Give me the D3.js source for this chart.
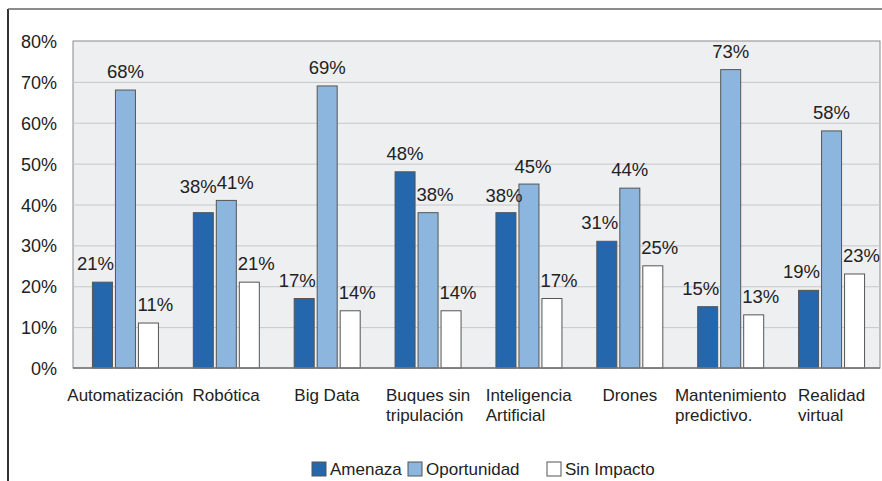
<!DOCTYPE html>
<html>
<head>
<meta charset="UTF-8">
<title></title>
<script type="text/javascript" src="https://cdn.jsdelivr.net/npm/d3@7/dist/d3.min.js"></script>
<style>
  body { margin: 0; background: #fff; }
  text { font-family: "Liberation Sans", Arial, sans-serif; fill: #222; }
</style>
</head>
<body>
<svg width="882" height="481"></svg>
<script>
// categorias (cada una con sus lineas de texto)
var categories = ["Automatización", "Robótica", "Big Data", "Buques sin\ntripulación",
  "Inteligencia\nArtificial", "Drones", "Mantenimiento\npredictivo.", "Realidad\nvirtual"];
var seriesNames = ["Amenaza", "Oportunidad", "Sin Impacto"];
var amenaza     = [21, 38, 17, 48, 38, 31, 15, 19];
var oportunidad = [68, 41, 69, 38, 45, 44, 73, 58];
var sinImpacto  = [11, 21, 14, 14, 17, 25, 13, 23];
var yTicks = [0, 10, 20, 30, 40, 50, 60, 70, 80];

var colors = ["#2467ad", "#8db6de", "#ffffff"];
var series = [amenaza, oportunidad, sinImpacto];

var svg = d3.select("svg");
var width = 882, height = 481;
var plotLeft = 73, plotRight = 880, plotTop = 41, plotBottom = 368;

// desplazamiento de etiquetas (como en el original, para no chocar)
var labelDx = [-7, 0, 7];
var labelFix = { "1-0": [-5, -20], "1-1": [9, -11], "3-0": [0, -12], "3-1": [7, -12],
                 "4-0": [-2, -11], "4-1": [4, -11] };

// marco exterior
svg.append("line").attr("x1", 8).attr("x2", 8).attr("y1", 9).attr("y2", height)
  .attr("stroke", "#333").attr("stroke-width", 2);
svg.append("line").attr("x1", 8).attr("x2", width).attr("y1", 9).attr("y2", 9)
  .attr("stroke", "#666").attr("stroke-width", 1.5);

var x = d3.scaleBand().domain(d3.range(categories.length)).range([plotLeft + 2, plotRight + 2]);
var y = d3.scaleLinear().domain([0, 80]).range([plotBottom, plotTop]);

// fondo del area de grafico
svg.append("rect").attr("x", plotLeft).attr("y", plotTop)
  .attr("width", plotRight - plotLeft).attr("height", plotBottom - plotTop)
  .attr("fill", "#eeeff1").attr("stroke", "#8a8a8a").attr("stroke-width", 1);

// lineas de cuadricula
svg.append("g").selectAll("line").data(yTicks.slice(1, -1)).enter().append("line")
  .attr("x1", plotLeft).attr("x2", plotRight)
  .attr("y1", function(d){ return y(d) + 0.5; })
  .attr("y2", function(d){ return y(d) + 0.5; })
  .attr("stroke", "#c6c7c9").attr("stroke-width", 1);

// eje y
svg.append("g").selectAll("text").data(yTicks).enter().append("text")
  .attr("x", 57).attr("y", function(d){ return y(d) + 7; })
  .attr("text-anchor", "end").style("font-size", "18px")
  .text(function(d){ return d + "%"; });

var barW = 20, step = 23;
var groups = svg.append("g").selectAll("g").data(categories).enter().append("g")
  .attr("transform", function(d, i){ return "translate(" + (x(i) + x.bandwidth() / 2) + ",0)"; });

series.forEach(function(vals, s) {
  groups.append("rect")
    .attr("x", (s - 1) * step - barW / 2)
    .attr("y", function(d, i){ return y(vals[i]); })
    .attr("width", barW)
    .attr("height", function(d, i){ return plotBottom - y(vals[i]); })
    .attr("fill", colors[s])
    .attr("stroke", "#555").attr("stroke-width", 1);
});

series.forEach(function(vals, s) {
  groups.append("text")
    .attr("x", function(d, i){
      var f = labelFix[i + "-" + s];
      return (s - 1) * step + (f ? f[0] : labelDx[s]);
    })
    .attr("y", function(d, i){
      var f = labelFix[i + "-" + s];
      return y(vals[i]) + (f ? f[1] : -12);
    })
    .attr("text-anchor", "middle").style("font-size", "18.5px")
    .text(function(d, i){ return vals[i] + "%"; });
});

// eje x
svg.append("line").attr("x1", plotLeft).attr("x2", plotRight).attr("y1", plotBottom).attr("y2", plotBottom)
  .attr("stroke", "#777").attr("stroke-width", 1.5);

groups.each(function(d) {
  var g = d3.select(this);
  var lines = d.split("\n");
  var t = g.append("text").attr("y", 401).style("font-size", "17px");
  lines.forEach(function(l, k){
    t.append("tspan").attr("x", 0).attr("dy", k ? 20 : 0).text(l);
  });
  // bloque alineado a la izquierda, centrado en el grupo
  var w = t.node().getBBox().width;
  t.selectAll("tspan").attr("x", -w / 2);
});

// leyenda
var legend = svg.append("g");
var lx = [312, 408, 547];
seriesNames.forEach(function(n, s) {
  legend.append("rect").attr("x", lx[s]).attr("y", 462).attr("width", 14).attr("height", 14)
    .attr("fill", colors[s]).attr("stroke", "#555").attr("stroke-width", 1);
  legend.append("text").attr("x", lx[s] + 18).attr("y", 475)
    .style("font-size", "17px").text(n);
});
</script>
</body>
</html>
